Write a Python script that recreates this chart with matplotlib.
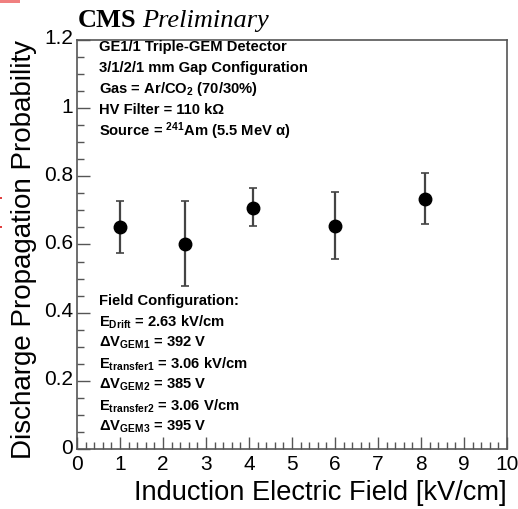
import matplotlib
matplotlib.use("Agg")
import matplotlib.pyplot as plt
import matplotlib.transforms as mtransforms
from matplotlib.ticker import MultipleLocator
from matplotlib.patches import Rectangle

plt.rcParams['font.family'] = ['Liberation Sans', 'DejaVu Sans']
plt.rcParams['mathtext.fontset'] = 'custom'
plt.rcParams['mathtext.rm'] = 'Liberation Sans'
plt.rcParams['mathtext.bf'] = 'Liberation Sans:bold'
plt.rcParams['mathtext.it'] = 'Liberation Sans:italic'
plt.rcParams['mathtext.default'] = 'bf'

# Data
field = [1.0, 2.5, 4.1, 6.0, 8.1]
prob = [0.652, 0.602, 0.706, 0.653, 0.733]
err_low = [0.076, 0.125, 0.053, 0.097, 0.073]
err_high = [0.075, 0.125, 0.059, 0.102, 0.078]

ytick_vals = [0, 0.2, 0.4, 0.6, 0.8, 1.0, 1.2]
ytick_labels = ["0", "0.2", "0.4", "0.6", "0.8", "1", "1.2"]

info_top = [
    "GE1/1 Triple-GEM Detector",
    "3/1/2/1 mm Gap Configuration",
    "Gas = Ar/CO$_{2}$ (70/30%)",
    "HV Filter = 110 k\u03a9",
    "Source = $^{241}$Am (5.5 MeV \u03b1)",
]
info_bottom = [
    "Field Configuration:",
    "E$_{Drift}$ = 2.63 kV/cm",
    "\u0394V$_{GEM1}$ = 392 V",
    "E$_{transfer1}$ = 3.06 kV/cm",
    "\u0394V$_{GEM2}$ = 385 V",
    "E$_{transfer2}$ = 3.06 V/cm",
    "\u0394V$_{GEM3}$ = 395 V",
]

fig = plt.figure(figsize=(5.18, 5.09), dpi=100)
ax = fig.add_axes([77/518, 1 - 449/509, 430/518, 409/509])

ax.errorbar(field, prob, yerr=[err_low, err_high], fmt='o', color='black',
            ecolor='#444444', elinewidth=1.6, capsize=3, capthick=1.2,
            markersize=9)

ax.set_xlim(0, 10)
ax.set_ylim(0, 1.2)
ax.xaxis.set_major_locator(MultipleLocator(1))
ax.xaxis.set_minor_locator(MultipleLocator(0.2))
ax.yaxis.set_minor_locator(MultipleLocator(0.05))
ax.set_yticks(ytick_vals)
ax.set_yticklabels(ytick_labels)
ax.tick_params(which='both', direction='in', color='#555555', labelsize=15)
ax.tick_params(which='major', length=9, width=1)
ax.tick_params(which='minor', length=5, width=1)
ax.tick_params(axis='x', pad=4)
ax.tick_params(axis='y', pad=3)
for s in ax.spines.values():
    s.set_color('#555555')
    s.set_linewidth(1.2)

shift = mtransforms.ScaledTranslation(0, 3/100, fig.dpi_scale_trans)
for lbl in ax.get_yticklabels():
    lbl.set_transform(lbl.get_transform() + shift)

ax.set_xlabel("Induction Electric Field [kV/cm]", fontsize=19.6, ha='right', x=1.0)
ax.xaxis.set_label_coords(1.0, -(493 - 449) / 409)
ax.xaxis.label.set_va('center')
ax.set_ylabel("Discharge Propagation Probability", fontsize=20, ha='right', y=1.0)
ax.yaxis.set_label_coords(-(77 - 24) / 430, 1.0)
ax.yaxis.label.set_va('center')

fig.text(78/518, 1 - 27/509, "CMS", fontsize=19, fontweight='bold',
         family='Liberation Serif', va='baseline')
fig.text(142/518, 1 - 27/509, "Preliminary", fontsize=19, style='italic',
         family='Liberation Serif', va='baseline')

y0 = 47
for i, s in enumerate(info_top):
    fig.text(99/518, 1 - (y0 + i*21)/509, s, fontsize=10.6, fontweight='bold', va='center')
y1 = 301
for i, s in enumerate(info_bottom):
    fig.text(99/518, 1 - (y1 + i*21)/509, s, fontsize=10.6, fontweight='bold', va='center')

fig.patches.append(Rectangle((0, 1 - 3/509), 20/518, 3/509, transform=fig.transFigure,
                             color='#f08080', lw=0))
for yy in (198, 227):
    fig.patches.append(Rectangle((0, 1 - (yy + 1)/509), 2/518, 2/509,
                                 transform=fig.transFigure, color='#e04040', lw=0))

fig.savefig("out.png", dpi=100)
